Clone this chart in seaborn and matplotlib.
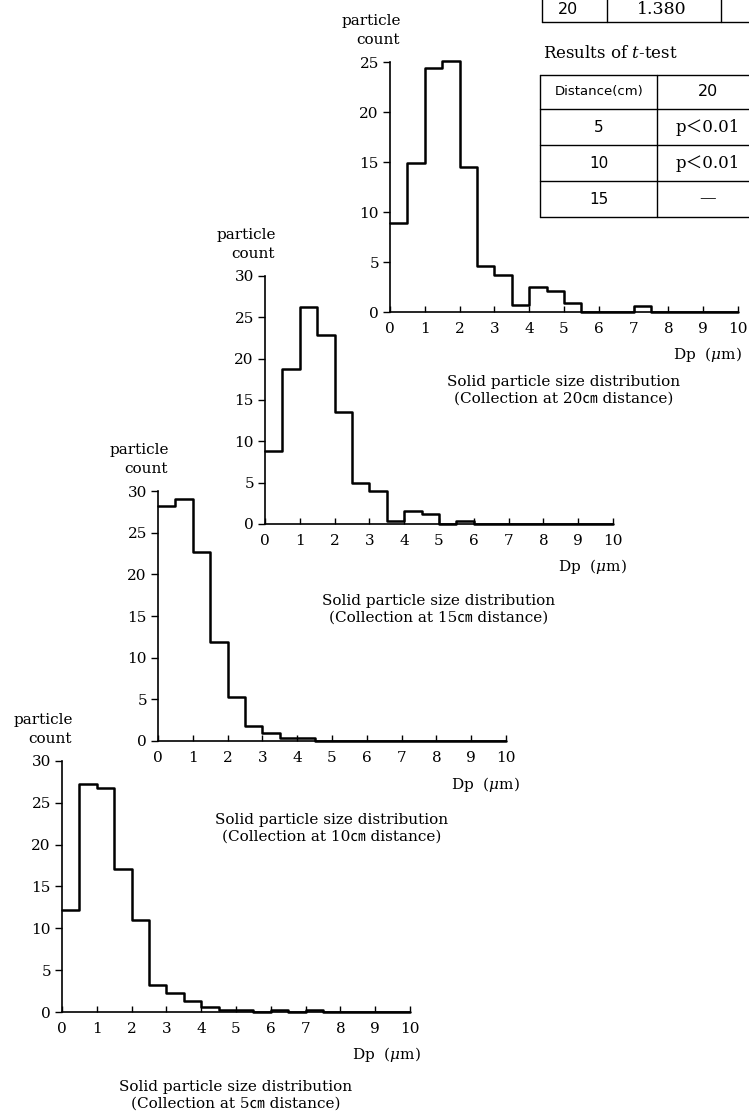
import numpy as np
import pandas as pd
import matplotlib
matplotlib.use("Agg")
import matplotlib.pyplot as plt
from matplotlib.lines import Line2D
import seaborn as sns

# ---------------- data ----------------
dp_bin_lower = [0.0, 0.5, 1.0, 1.5, 2.0, 2.5, 3.0, 3.5, 4.0, 4.5,
                5.0, 5.5, 6.0, 6.5, 7.0, 7.5, 8.0, 8.5, 9.0, 9.5]
bin_width = 0.5
counts_20cm = [8.9, 14.9, 24.4, 25.1, 14.5, 4.6, 3.7, 0.7, 2.5, 2.1,
               0.9, 0.0, 0.0, 0.0, 0.6, 0.0, 0.0, 0.0, 0.0, 0.0]
counts_15cm = [8.8, 18.7, 26.2, 22.9, 13.5, 5.0, 4.0, 0.4, 1.6, 1.2,
               0.0, 0.4, 0.0, 0.0, 0.0, 0.0, 0.0, 0.0, 0.0, 0.0]
counts_10cm = [28.2, 29.0, 22.7, 11.9, 5.3, 1.8, 1.0, 0.4, 0.35, 0.0,
               0.0, 0.0, 0.0, 0.0, 0.0, 0.0, 0.0, 0.0, 0.0, 0.0]
counts_5cm = [12.2, 27.2, 26.8, 17.1, 11.0, 3.2, 2.3, 1.3, 0.6, 0.2,
              0.2, 0.05, 0.2, 0.0, 0.2, 0.0, 0.0, 0.0, 0.0, 0.0]
distances = ["20", "15", "10", "5"]
x_ticks = [0, 1, 2, 3, 4, 5, 6, 7, 8, 9, 10]
y_ticks_20 = [0, 5, 10, 15, 20, 25]
y_ticks_other = [0, 5, 10, 15, 20, 25, 30]

table1_row = ["20", "1.380"]
ttest_header = ["Distance(cm)", "20"]
ttest_rows = [["5", "p＜0.01"], ["10", "p＜0.01"], ["15", "—"]]

# ---------------- style ----------------
sns.set_theme(style="ticks")
plt.rcParams["font.family"] = ["DejaVu Serif", "Noto Sans CJK JP"]
plt.rcParams["mathtext.fontset"] = "dejavuserif"
FS = 11
SANS = ["DejaVu Sans", "Noto Sans CJK JP"]

W, H = 749, 1115
fig = plt.figure(figsize=(W / 100, H / 100), dpi=100)
fig.patch.set_facecolor("white")


def fx(px):
    return px / W


def fy(py):
    return 1 - py / H


def ftext(px, py, s, **kw):
    kw.setdefault("fontsize", FS)
    kw.setdefault("color", "black")
    fig.text(fx(px), fy(py), s, **kw)


def fline(xs, ys, lw=1.0):
    fig.add_artist(Line2D([fx(v) for v in xs], [fy(v) for v in ys],
                          transform=fig.transFigure, color="black", lw=lw))


# layout: (counts, left px, y0 px, px per unit, ymax, yticks, caption offset)
layout = [
    (counts_20cm, 390, 312, 10.0, 25, y_ticks_20, 70),
    (counts_15cm, 265, 524, 8.27, 30, y_ticks_other, 77),
    (counts_10cm, 158, 741, 8.33, 30, y_ticks_other, 79),
    (counts_5cm, 62, 1012, 8.37, 30, y_ticks_other, 75),
]
AX_W = 348
dp_right = [4, 14, 14, 11]

for i, (dist, (counts, left, y0, ppu, ymax, yticks, cap_off)) in enumerate(zip(distances, layout)):
    hpx = ymax * ppu
    ax = fig.add_axes([fx(left), fy(y0), AX_W / W, hpx / H])
    ax.set_facecolor("none")
    df = pd.DataFrame({"dp": [b + bin_width / 2 for b in dp_bin_lower],
                       "count": counts})
    edges = dp_bin_lower + [dp_bin_lower[-1] + bin_width]
    sns.histplot(data=df, x="dp", weights="count", bins=edges,
                 element="step", fill=False, color="black",
                 linewidth=1.8, ax=ax)
    for ln in ax.lines:
        ln.set_clip_on(False)
    ax.set_xlim(0, 10)
    ax.set_ylim(0, ymax)
    ax.set_xlabel("")
    ax.set_ylabel("")
    ax.set_xticks(x_ticks)
    ax.set_yticks(yticks)
    ax.set_xticklabels([str(t) for t in x_ticks])
    ax.set_yticklabels([str(t) for t in yticks])
    for s in ["top", "right"]:
        ax.spines[s].set_visible(False)
    for s in ["left", "bottom"]:
        ax.spines[s].set_linewidth(1.2)
        ax.spines[s].set_color("black")
    ax.tick_params(axis="x", direction="in", length=4, width=1.0,
                   pad=7, labelsize=FS, colors="black")
    ax.tick_params(axis="y", direction="out", length=5, width=1.0,
                   pad=3, labelsize=FS, colors="black")
    ax.grid(False)

    top = y0 - hpx
    right = left + AX_W
    # y label
    ftext(left + 11, top - 41, "particle", ha="right", va="center")
    ftext(left + 10, top - 22, "count", ha="right", va="center")
    # x label
    ftext(right + dp_right[i], y0 + 43, r"Dp  ($\mu$m)", ha="right", va="center")
    # caption
    cx = left + AX_W / 2
    ftext(cx, y0 + cap_off, "Solid particle size distribution",
          ha="center", va="center")
    ftext(cx, y0 + cap_off + 17, "(Collection at " + dist + "㎝ distance)",
          ha="center", va="center")

# ---------------- tables ----------------
# partially visible summary table (top row cut off)
for xv in [542, 607, 721]:
    fline([xv, xv], [-5, 22])
fline([542, 760], [22, 22])
ftext(568, 10, table1_row[0], ha="center", va="center", family=SANS, fontsize=11.5)
ftext(662, 10, table1_row[1], ha="center", va="center", fontsize=12.5)

ftext(543, 53, r"Results of $t$-test", ha="left", va="center", fontsize=12)

row_lines = [75, 109, 145, 181, 217]
for yv in row_lines:
    fline([540, 760], [yv, yv])
fline([540, 540], [75, 217])
fline([657, 657], [75, 217])
row_centers = [92, 127, 163, 199]
ftext(599, row_centers[0], ttest_header[0], ha="center", va="center",
      fontsize=9.5, family=["DejaVu Sans", "Noto Sans CJK JP"])
ftext(708, row_centers[0], ttest_header[1], ha="center", va="center",
      family=SANS, fontsize=11.5)
for (d, p), yc in zip(ttest_rows, row_centers[1:]):
    ftext(599, yc, d, ha="center", va="center", family=SANS, fontsize=11)
    ftext(708, yc, p, ha="center", va="center", fontsize=12)

fig.savefig("out.png", dpi=100, facecolor="white")
